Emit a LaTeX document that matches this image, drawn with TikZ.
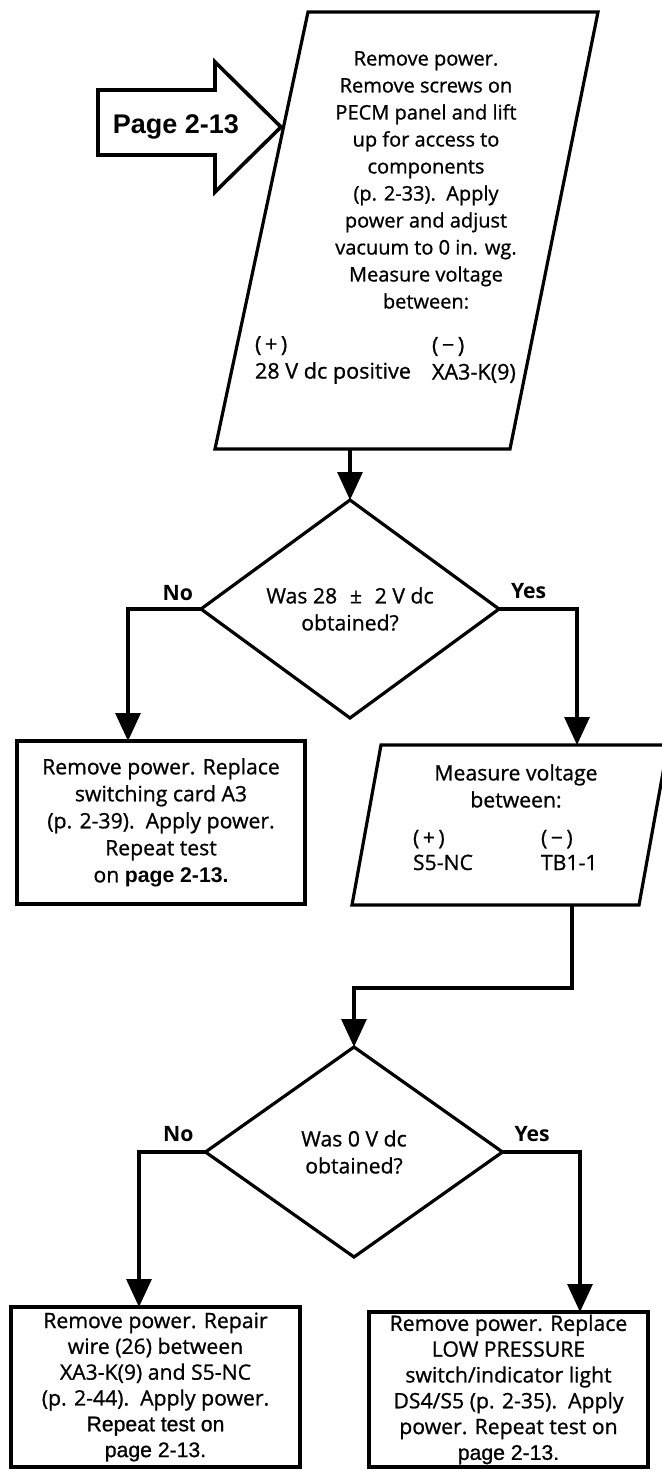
\documentclass[tikz,border=0pt]{standalone}
\usepackage{fontspec}
\setmainfont{Open Sans}[UprightFeatures={FakeBold=0.9}]
\newfontfamily\helv{Liberation Sans}[UprightFeatures={FakeBold=0.9}]
\usetikzlibrary{positioning,calc,arrows.meta,shapes.geometric}
\tikzset{fluxpx/.style={x=0.5pt,y=-0.5pt,every node/.style={inner sep=0pt,outer sep=0pt}}}
\tikzset{
  contorno/.style={draw=black,line width=1.6pt,line join=miter},
  seta/.style={draw=black,line width=1.8pt,line join=miter},
  fluxo/.style={black,line width=1.6pt,-{Triangle[length=14pt,width=12.5pt]}},
  entrada/.style={font=\helv\bfseries\fontsize{13.5}{16}\selectfont},
  texto/.style={align=center,font=\fontsize{10}{13.5}\selectfont},
  coluna/.style={align=left,anchor=west,font=\fontsize{10.8}{13.5}\selectfont},
  resp/.style={font=\bfseries\fontsize{10.6}{12}\selectfont},
}

\begin{document}
\begin{tikzpicture}[fluxpx,
  caixa/.style={contorno,rectangle,align=center,font=\fontsize{10.6}{13.5}\selectfont},
  caixab/.style={caixa,line width=2pt,font=\fontsize{10.6}{12.9}\selectfont},
  losango/.style={contorno,diamond,align=center,font=\fontsize{10.6}{13.5}\selectfont}]
  \useasboundingbox (0,0) rectangle (662,1477);
  % --- entrada pela pagina 2-13
  \draw[seta] (98,90) -- (215,90) -- (215,62) -- (281,127) -- (215,192) -- (215,155) -- (98,155) -- cycle;
  \node[entrada] (pag) at (176,127) {Page 2-13};
  % --- primeira medida (28 V dc)
  \draw[contorno] (308,12) -- (598,12) -- (510,449) -- (215,449) -- cycle;
  \node[texto] (med1) at (426,180) {Remove power.\\Remove screws on\\PECM panel and lift\\up for access to\\components\\(p. 2-33).\ \ Apply\\power and adjust\\vacuum to 0 in. wg.\\Measure voltage\\between:};
  \node[coluna] (pos1) at (255,360) {(\,+\,)\\28 V dc positive};
  \node[coluna] (neg1) at (432,360) {(\,−\,)\\XA3-K(9)};
  \coordinate (m1s) at (350,449);
  % --- pergunta 1
  \node[losango,minimum width=149pt,minimum height=109pt,aspect=1.37] (q1) at (350,609)
    {Was 28\hspace{0.6em}±\hspace{0.6em}2 V dc\\obtained?};
  \node[resp,above left=4pt and 4pt of q1.west] (nao1) {No};
  \node[resp,above right=5pt and 6pt of q1.east] (sim1) {Yes};
  % --- troca do cartao A3
  \node[caixa,minimum width=144pt,minimum height=81.5pt] (c1) at (161,822.5)
    {Remove power. Replace\\switching card A3\\(p. 2-39).\ \ Apply power.\\Repeat test\\on {\helv\bfseries page 2-13.}};
  \coordinate (c1n) at (128,741);
  % --- segunda medida (S5-NC / TB1-1)
  \draw[contorno] (381,745) -- (668,745) -- (639,905) -- (352,905) -- cycle;
  \node[texto,font=\fontsize{10.6}{13.5}\selectfont] (med2) at (516,786) {Measure voltage\\between:};
  \node[coluna,font=\fontsize{10.6}{12.5}\selectfont] (pos2) at (413,850) {(\,+\,)\\S5-NC};
  \node[coluna,font=\fontsize{10.6}{12.5}\selectfont] (neg2) at (541,850) {(\,−\,)\\TB1-1};
  \coordinate (m2n) at (577,745);
  \coordinate (m2s) at (572,905);
  \coordinate (j2) at (572,988);
  % --- pergunta 2
  \node[losango,minimum width=148.5pt,minimum height=105pt,aspect=1.41] (q2) at (354,1152)
    {Was 0 V dc\\obtained?};
  \node[resp,above left=5pt and 6pt of q2.west] (nao2) {No};
  \node[resp,above right=5pt and 6pt of q2.east] (sim2) {Yes};
  % --- reparos finais
  \node[caixab,minimum width=144.5pt,minimum height=80pt] (c3) at (155.5,1387)
    {Remove power. Repair\\wire (26) between\\XA3-K(9) and S5-NC\\(p. 2-44).\ \ Apply power.\\{\helv Repeat test on}\\{\helv page 2-13.}};
  \node[caixab,minimum width=139.5pt,minimum height=77.5pt] (c4) at (508.5,1389.5)
    {Remove power. Replace\\LOW PRESSURE\\switch/indicator light\\DS4/S5 (p. 2-35).\ \ Apply\\power. Repeat test on\\{\helv page 2-13.}};
  \coordinate (c3n) at (139,1307);
  \coordinate (c4n) at (580,1312);
  % --- ligacoes
  \draw[fluxo] (m1s) -- (q1.north);
  \draw[fluxo] (q1.west) -| (c1n);
  \draw[fluxo] (q1.east) -| (m2n);
  \draw[fluxo] (m2s) -- (j2) -| (q2.north);
  \draw[fluxo] (q2.west) -| (c3n);
  \draw[fluxo] (q2.east) -| (c4n);
\end{tikzpicture}
\end{document}
